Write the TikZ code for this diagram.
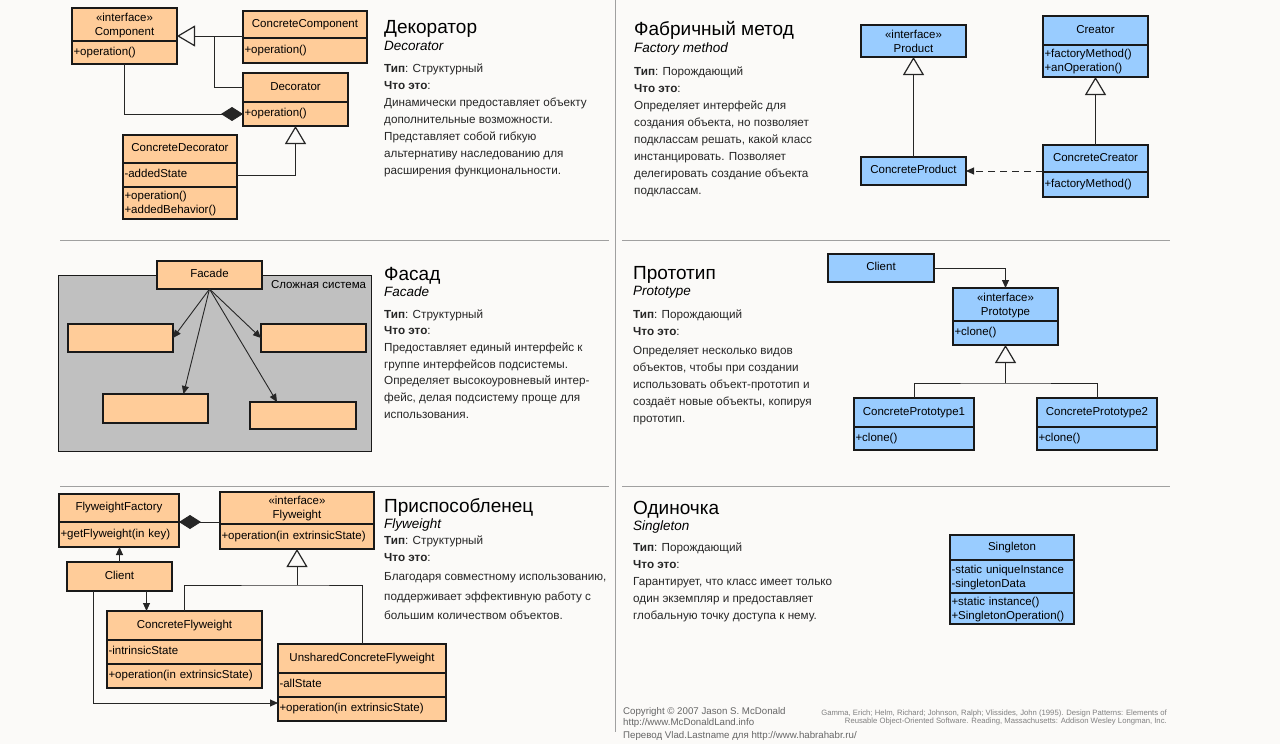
\documentclass[tikz,border=0pt]{standalone}
\usepackage{fontspec}
\setmainfont{Liberation Sans}
\usetikzlibrary{arrows.meta,positioning}

\definecolor{peach}{RGB}{255,204,153}
\definecolor{skyb}{RGB}{153,204,255}
\definecolor{paper}{RGB}{251,250,248}
\definecolor{sysgray}{RGB}{192,192,192}
\definecolor{rulegray}{RGB}{160,160,160}

\newcommand{\umlfont}{\fontsize{11.5}{14}\selectfont}
\newcommand{\headfont}{\fontsize{19}{22}\selectfont}
\newcommand{\engfont}{\fontsize{13.5}{16}\selectfont\itshape}
\newcommand{\bodyfont}{\fontsize{11.7}{17}\selectfont}

\tikzstyle{cls}=[draw=black!90,line width=1.3pt,fill=peach,inner xsep=1.5pt,inner ysep=0pt,outer sep=0pt,font=\umlfont,align=center,execute at begin node=\strut]
\tikzstyle{mem}=[cls,align=left]
\tikzstyle{bcls}=[cls,fill=skyb]
\tikzstyle{bmem}=[mem,fill=skyb]
\tikzstyle{ed}=[draw=black!85,line width=0.9pt]
\tikzstyle{gen}=[ed,-{Triangle[open,length=18pt,width=21pt,line width=1.2pt]}]
\tikzstyle{comp}=[ed,{Diamond[length=22pt,width=14pt]}-]
\tikzstyle{dep}=[ed,-{Triangle[length=8pt,width=7pt]}]
\tikzstyle{head}=[anchor=base west,inner sep=0pt,font=\headfont]
\tikzstyle{eng}=[anchor=base west,inner sep=0pt,font=\engfont]
\tikzstyle{txt}=[anchor=north west,inner sep=0pt,align=left,font=\bodyfont,text=black!85]
\tikzstyle{foot}=[anchor=base west,inner sep=0pt,font=\fontsize{9.7}{11.5}\selectfont,text=black!60]
\tikzstyle{ref}=[anchor=base east,inner sep=0pt,font=\fontsize{7.7}{8.3}\selectfont,text=black!50]
\tikzstyle{sep}=[draw=rulegray,line width=0.8pt]

\begin{document}
\begin{tikzpicture}[x=1pt,y=-1pt]
  \path[use as bounding box,fill=paper] (0,0) rectangle (1280,744);

  \draw[sep] (615,0) -- (615,732);
  \draw[sep] (60,240) -- (609,240);
  \draw[sep] (622,240) -- (1170,240);
  \draw[sep] (60,486) -- (609,486);
  \draw[sep] (622,486) -- (1170,486);

  % decorator
  \node[cls,anchor=north west,text width=102pt,minimum height=33pt] (compT) at (72,8) {«interface»\\Component};
  \node[mem,below=0pt of compT,text width=102pt,minimum height=23pt] (compM) {+operation()};
  \node[cls,anchor=north west,text width=121pt,minimum height=27pt] (ccompT) at (243,11) {ConcreteComponent};
  \node[mem,below=0pt of ccompT,text width=121pt,minimum height=25pt] (ccompM) {+operation()};
  \node[cls,anchor=north west,text width=102pt,minimum height=29pt] (decoT) at (243,73) {Decorator};
  \node[mem,below=0pt of decoT,text width=102pt,minimum height=24pt] (decoM) {+operation()};
  \node[cls,anchor=north west,text width=111pt,minimum height=28pt] (cdecoT) at (123,135) {ConcreteDecorator};
  \node[mem,below=0pt of cdecoT,text width=111pt,minimum height=24pt] (cdecoA) {-addedState};
  \node[mem,below=0pt of cdecoA,text width=111pt,minimum height=32pt] (cdecoM) {+operation()\\+addedBehavior()};

  \draw[gen] ([yshift=2pt]ccompT.south west) coordinate (g1) -- (g1 -| compT.east);
  \draw[ed] (decoT.west) -| ([xshift=-29pt]g1);
  \draw[comp] (decoM.west) -| (compM.south);
  \draw[gen] (cdecoA.east) -| (decoM.south);

  \node[head] (decoH) at (384,34) {Декоратор};
  \node[eng] (decoE) at (384,50) {Decorator};
  \node[txt] (decoD) at (384,60.1) {\strut\textbf{Тип}: Структурный\\
    \textbf{Что это}:\\
    Динамически предоставляет объекту\\
    дополнительные возможности.\\
    Представляет собой гибкую\\
    альтернативу наследованию для\\
    расширения функциональности.};

  % factory method
  \node[bcls,anchor=north west,text width=102pt,minimum height=32pt] (prod) at (861,25) {«interface»\\Product};
  \node[bcls,anchor=north west,text width=102pt,minimum height=28pt] (cprod) at (861,157) {ConcreteProduct};
  \node[bcls,anchor=north west,text width=102pt,minimum height=29pt] (creaT) at (1043,16) {Creator};
  \node[bmem,below=0pt of creaT,text width=102pt,minimum height=32pt] (creaM) {+factoryMethod()\\+anOperation()};
  \node[bcls,anchor=north west,text width=102pt,minimum height=27pt] (ccreaT) at (1043,145) {ConcreteCreator};
  \node[bmem,below=0pt of ccreaT,text width=102pt,minimum height=25pt] (ccreaM) {+factoryMethod()};

  \draw[gen] (cprod.north) -- (prod.south);
  \draw[gen] (ccreaT.north) -- (creaM.south);
  \draw[dep,dash pattern=on 7pt off 5pt] (cprod.east -| ccreaT.west) -- (cprod.east);

  \node[head] (factH) at (634,35) {Фабричный метод};
  \node[eng] (factE) at (634,52) {Factory method};
  \node[txt] (factD) at (634,63.1) {\strut\textbf{Тип}: Порождающий\\
    \textbf{Что это}:\\
    Определяет интерфейс для\\
    создания объекта, но позволяет\\
    подклассам решать, какой класс\\
    инстанцировать. Позволяет\\
    делегировать создание объекта\\
    подклассам.};

  % facade
  \node[draw=black!90,line width=1.3pt,fill=sysgray,anchor=north west,minimum width=313pt,minimum height=176pt,inner sep=0pt] (sys) at (58,275) {};
  \node[font=\umlfont,anchor=north east,inner sep=0pt] (syslbl) at ([xshift=-6pt,yshift=-5.5pt]sys.north east) {Сложная система};
  \node[cls,anchor=north west,text width=102pt,minimum height=28pt] (fac) at (157,261) {Facade};
  \node[cls,anchor=north west,minimum width=105pt,minimum height=28pt] (sub1) at (68,324) {};
  \node[cls,anchor=north west,minimum width=105pt,minimum height=28pt] (sub2) at (261,324) {};
  \node[cls,anchor=north west,minimum width=105pt,minimum height=29pt] (sub3) at (103,394) {};
  \node[cls,anchor=north west,minimum width=106pt,minimum height=27pt] (sub4) at (250,402) {};

  \draw[dep] (fac.south) -- (sub1.east);
  \draw[dep] (fac.south) -- ([xshift=28pt]sub3.north);
  \draw[dep] (fac.south) -- (sub2.west);
  \draw[dep] (fac.south) -- ([xshift=-26pt]sub4.north);

  \node[head] (facH) at (384,280) {Фасад};
  \node[eng] (facE) at (384,296) {Facade};
  \node[txt,font=\fontsize{11.7}{16.7}\selectfont] (facD) at (384,306.3) {\strut\textbf{Тип}: Структурный\\
    \textbf{Что это}:\\
    Предоставляет единый интерфейс к\\
    группе интерфейсов подсистемы.\\
    Определяет высокоуровневый интер-\\
    фейс, делая подсистему проще для\\
    использования.};

  % prototype
  \node[bcls,anchor=north west,text width=103pt,minimum height=28pt] (pcli) at (828,254) {Client};
  \node[bcls,anchor=north west,text width=102pt,minimum height=33pt] (protoT) at (953,288) {«interface»\\Prototype};
  \node[bmem,below=0pt of protoT,text width=102pt,minimum height=24pt] (protoM) {+clone()};
  \node[bcls,anchor=north west,text width=117pt,minimum height=29pt] (cp1T) at (854,398) {ConcretePrototype1};
  \node[bmem,below=0pt of cp1T,text width=117pt,minimum height=23pt] (cp1M) {+clone()};
  \node[bcls,anchor=north west,text width=117pt,minimum height=29pt] (cp2T) at (1037,398) {ConcretePrototype2};
  \node[bmem,below=0pt of cp2T,text width=117pt,minimum height=23pt] (cp2M) {+clone()};

  \draw[dep] (pcli.east) -| (protoT.north);
  \coordinate (pj) at ([yshift=-38pt]protoM.south);
  \draw[ed] (cp1T.north) |- (pj) -| (cp2T.north);
  \draw[gen] (pj) -- (protoM.south);

  \node[head] (protH) at (633,279) {Прототип};
  \node[eng] (protE) at (633,295) {Prototype};
  \node[txt] (protD) at (633,306.1) {\strut\textbf{Тип}: Порождающий\\
    \textbf{Что это}:\\[2pt]
    Определяет несколько видов\\
    объектов, чтобы при создании\\
    использовать объект-прототип и\\
    создаёт новые объекты, копируя\\
    прототип.};

  % flyweight
  \node[cls,anchor=north west,text width=117pt,minimum height=28pt] (ffT) at (59,494) {FlyweightFactory};
  \node[mem,below=0pt of ffT,text width=117pt,minimum height=25pt] (ffM) {+getFlyweight(in key)};
  \node[cls,anchor=north west,text width=151pt,minimum height=32pt] (fwT) at (220,492) {«interface»\\Flyweight};
  \node[mem,below=0pt of fwT,text width=151pt,minimum height=25pt] (fwM) {+operation(in extrinsicState)};
  \node[cls,anchor=north west,text width=102pt,minimum height=29pt] (fcli) at (67,562) {Client};
  \node[cls,anchor=north west,text width=152pt,minimum height=29pt] (cfwT) at (107,611) {ConcreteFlyweight};
  \node[mem,below=0pt of cfwT,text width=152pt,minimum height=24pt] (cfwA) {-intrinsicState};
  \node[mem,below=0pt of cfwA,text width=152pt,minimum height=24pt] (cfwM) {+operation(in extrinsicState)};
  \node[cls,anchor=north west,text width=165pt,minimum height=29pt] (ufwT) at (278,644) {UnsharedConcreteFlyweight};
  \node[mem,below=0pt of ufwT,text width=165pt,minimum height=24pt] (ufwA) {-allState};
  \node[mem,below=0pt of ufwA,text width=165pt,minimum height=24pt] (ufwM) {+operation(in extrinsicState)};

  \draw[comp] (ffT.south east) -- (ffT.south east -| fwT.west);
  \draw[dep] (fcli.north) -- (fcli.north |- ffM.south);
  \draw[dep] ([xshift=27pt]fcli.south) coordinate (c1) -- (c1 |- cfwT.north);
  \draw[dep] ([xshift=-26pt]fcli.south) |- ([yshift=6pt]ufwM.west);
  \coordinate (fj) at ([yshift=-36pt]fwM.south);
  \draw[ed] (cfwT.north) |- (fj) -| (ufwT.north);
  \draw[gen] (fj) -- (fwM.south);

  \node[head] (flyH) at (384,512) {Приспособленец};
  \node[eng] (flyE) at (384,528) {Flyweight};
  \node[txt,font=\fontsize{11.7}{19.5}\selectfont] (flyD) at (384,530.4) {\strut\textbf{Тип}: Структурный\\[-2.5pt]
    \textbf{Что это}:\\
    Благодаря совместному использованию,\\
    поддерживает эффективную работу с\\
    большим количеством объектов.};

  % singleton
  \node[bcls,anchor=north west,text width=121pt,minimum height=25pt] (singT) at (950,535) {Singleton};
  \node[bmem,below=0pt of singT,text width=121pt,minimum height=33pt] (singA) {-static uniqueInstance\\-singletonData};
  \node[bmem,below=0pt of singA,text width=121pt,minimum height=31pt] (singM) {+static instance()\\+SingletonOperation()};

  \node[head] (singH) at (633,514) {Одиночка};
  \node[eng] (singE) at (633,530) {Singleton};
  \node[txt] (singD) at (633,539.1) {\strut\textbf{Тип}: Порождающий\\
    \textbf{Что это}:\\
    Гарантирует, что класс имеет только\\
    один экземпляр и предоставляет\\
    глобальную точку доступа к нему.};

  % footer
  \node[foot] (copy) at (623,714.5) {Copyright © 2007 Jason S. McDonald};
  \node[foot] (site) at (623,725.5) {http://www.McDonaldLand.info};
  \node[foot] (trans) at (623,738.5) {Перевод Vlad.Lastname для http://www.habrahabr.ru/};
  \node[ref] (gamma1) at (1167,715.5) {Gamma, Erich; Helm, Richard; Johnson, Ralph; Vlissides, John (1995). Design Patterns: Elements of};
  \node[ref] (gamma2) at (1167,723.5) {Reusable Object-Oriented Software. Reading, Massachusetts: Addison Wesley Longman, Inc.};
\end{tikzpicture}
\end{document}
